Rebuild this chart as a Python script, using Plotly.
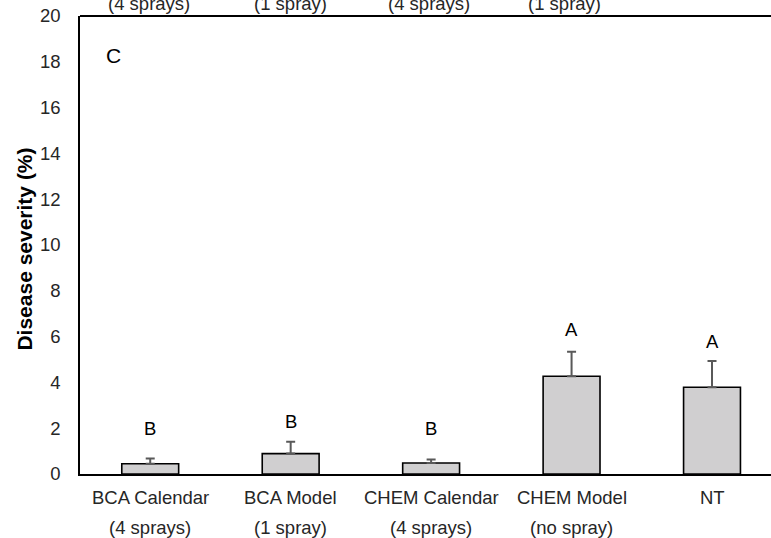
import plotly.graph_objects as go

categories = ["BCA Calendar", "BCA Model", "CHEM Calendar", "CHEM Model", "NT"]
sublabels = ["(4 sprays)", "(1 spray)", "(4 sprays)", "(no spray)", ""]
severity = [0.45, 0.89, 0.48, 4.27, 3.79]
severity_err = [0.23, 0.52, 0.15, 1.07, 1.14]
letters = ["B", "B", "B", "A", "A"]
letter_y = [2.0, 2.3, 2.0, 6.3, 5.8]
prev_panel_labels = ["(4 sprays)", "(1 spray)", "(4 sprays)", "(1 spray)"]
prev_panel_shift = [-1, 0, -2, -7]
y_ticks = list(range(0, 21, 2))

FONT = "Liberation Sans, Arial, sans-serif"
FS = 18.5

fig = go.Figure()
fig.add_trace(go.Bar(
    x=categories, y=severity, width=0.405,
    marker=dict(color="#d0cfd0", line=dict(color="black", width=1.6)),
    error_y=dict(type="data", array=severity_err, symmetric=False,
                 arrayminus=[0] * len(severity_err),
                 color="#595959", thickness=2, width=4.5),
    showlegend=False, hoverinfo="skip",
))

ann = []
for c, l, ly in zip(categories, letters, letter_y):
    ann.append(dict(x=c, y=ly, xref="x", yref="y", text=l, showarrow=False,
                    font=dict(size=FS, color="black", family=FONT),
                    xanchor="center", yanchor="middle"))
for c, s in zip(categories, sublabels):
    ann.append(dict(x=c, y=0, xref="x", yref="paper", text=c, showarrow=False,
                    font=dict(size=FS, color="#262626", family=FONT),
                    xanchor="center", yanchor="middle", yshift=-23.7))
    if s:
        ann.append(dict(x=c, y=0, xref="x", yref="paper", text=s, showarrow=False,
                        font=dict(size=FS, color="#262626", family=FONT),
                        xanchor="center", yanchor="middle", yshift=-53.3))
for c, s, sh in zip(categories, prev_panel_labels, prev_panel_shift):
    ann.append(dict(x=c, y=1, xref="x", yref="paper", text=s, showarrow=False,
                    font=dict(size=FS, color="#262626", family=FONT),
                    xanchor="center", yanchor="middle", yshift=12.5, xshift=sh))
ann.append(dict(x=0, y=0.914, xref="paper", yref="paper", text="C", showarrow=False,
                font=dict(size=21, color="black", family=FONT),
                xanchor="center", yanchor="middle", xshift=33))
ann.append(dict(x=0, y=0.49, xref="paper", yref="paper", text="<b>Disease severity (%)</b>",
                showarrow=False, textangle=-90,
                font=dict(size=21, color="black", family=FONT),
                xanchor="center", yanchor="middle", xshift=-55))

fig.update_layout(
    width=771, height=538,
    margin=dict(l=80, r=0, t=16, b=64, pad=0),
    plot_bgcolor="white", paper_bgcolor="white",
    annotations=ann,
    shapes=[dict(type="line", xref="paper", yref="paper", x0=0, x1=1, y0=1, y1=1,
                 line=dict(color="black", width=2.2))],
    xaxis=dict(range=[-0.5, 4.42], showline=True, linecolor="black", linewidth=1.6,
               showticklabels=False, ticks="", showgrid=False, zeroline=False),
    yaxis=dict(range=[0, 20], tickvals=y_ticks, showline=True, linecolor="black",
               linewidth=1.6, ticks="", showgrid=False, zeroline=False,
               ticklabelstandoff=14,
               tickfont=dict(size=FS, color="#262626", family=FONT)),
)

fig.write_html("out.html", config={"displayModeBar": False},
               post_script="document.body.style.margin='0';document.body.style.overflow='hidden';")
